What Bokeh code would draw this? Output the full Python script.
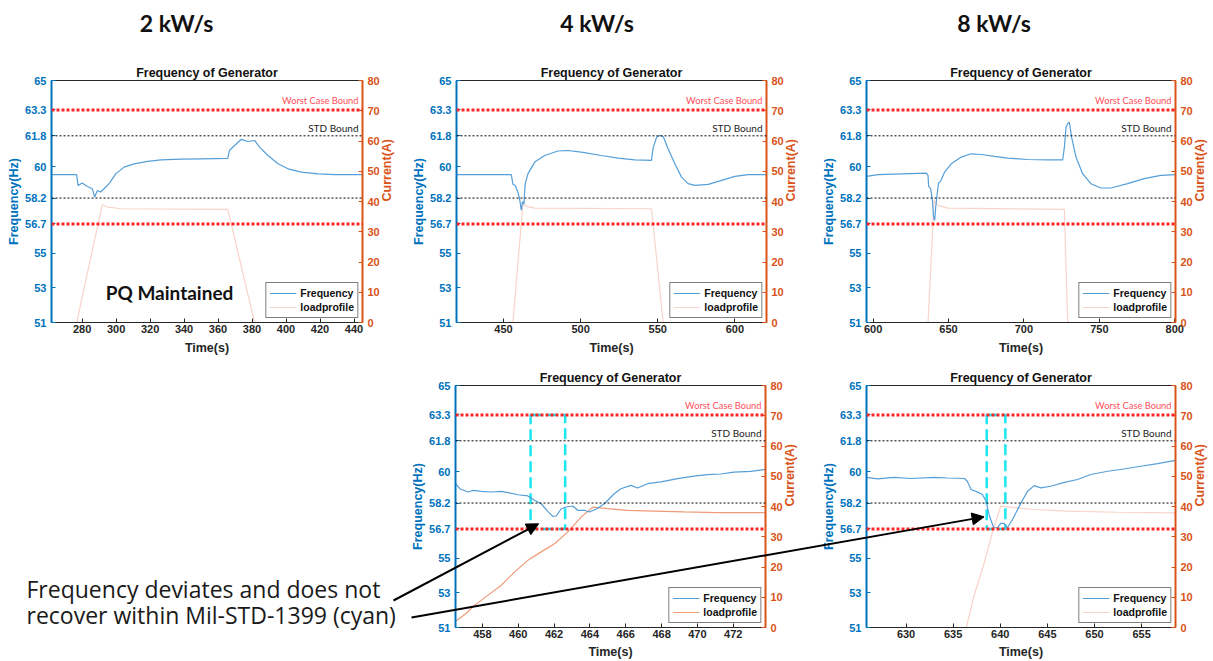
import math
from bokeh.plotting import figure
from bokeh.layouts import column, row
from bokeh.models import (Range1d, LinearAxis, Span, Label, Arrow, NormalHead,
                          SingleIntervalTicker, FixedTicker, CustomJSTickFormatter)
from bokeh.embed import file_html
from bokeh.resources import INLINE

# ---------------- data ----------------
HEADERS = ["2 kW/s", "4 kW/s", "8 kW/s"]
FREQ_TICKS = [51, 53, 55, 56.7, 58.2, 60, 61.8, 63.3, 65]
CURRENT_TICKS = [0, 10, 20, 30, 40, 50, 60, 70, 80]
WORST_CASE_BOUNDS = [56.7, 63.3]
STD_BOUNDS = [58.2, 61.8]
ANNOTATION_LINES = ["Frequency deviates and does not", "recover within Mil-STD-1399 (cyan)"]
PQ_TEXT = "PQ Maintained"

# 2 kW/s
T_FREQ_2KW = [262, 276.8, 277.6, 280.1, 283.1, 286.0, 287.4, 289.0, 290.9, 292.9, 295.9, 299.8,
              304.7, 310.6, 318.5, 326.4, 338.2, 350.0, 365.7, 366.7, 369.7, 373.6, 377.6, 381.5,
              384.4, 389.4, 395.3, 401.2, 409.0, 418.9, 428.7, 445.0]
FREQ_2KW = [59.55, 59.55, 58.93, 59.07, 58.87, 58.74, 58.26, 58.64, 58.55, 58.74, 59.03, 59.6,
            59.99, 60.18, 60.32, 60.41, 60.45, 60.47, 60.49, 60.95, 61.24, 61.59, 61.47, 61.53,
            61.15, 60.66, 60.18, 59.89, 59.70, 59.6, 59.55, 59.55]
T_LOAD_2KW = [262, 276.8, 291.9, 294.9, 302.7, 365.7, 381.5, 445]
LOAD_2KW = [0, 0, 39.0, 38.2, 37.6, 37.4, 0, 0]

# 4 kW/s
T_FREQ_4KW = [419.5, 455.0, 456.1, 457.6, 459.3, 460.4, 461.5, 462.3, 463.2, 464.0, 465.8, 470.2,
              476.7, 485.3, 491.8, 500.5, 513.5, 524.3, 535.1, 545.9, 547.0, 549.2, 551.3, 553.5,
              556.7, 561.1, 565.4, 569.7, 574.1, 582.7, 591.4, 600.0, 608.7, 620.5]
FREQ_4KW = [59.55, 59.55, 59.0, 58.93, 58.55, 58.16, 57.5, 58.0, 57.85, 59.0, 59.6, 60.28,
            60.66, 60.92, 60.95, 60.86, 60.66, 60.51, 60.41, 60.38, 61.1, 61.72, 61.82, 61.76,
            61.05, 60.18, 59.41, 59.03, 58.93, 58.99, 59.22, 59.45, 59.55, 59.55]
T_LOAD_4KW = [419.5, 456.1, 462.6, 464.8, 470.2, 545.9, 553.5, 620.5]
LOAD_4KW = [0, 0, 39.5, 38.4, 37.8, 37.6, 0, 0]

# 8 kW/s
T_FREQ_8KW = [595.6, 603.3, 635.3, 636.4, 636.8, 638.1, 639.3, 640.1, 640.8, 641.5, 642.6, 643.4,
              644.8, 647.4, 651.8, 658.4, 665.0, 671.7, 680.5, 689.3, 702.5, 715.7, 725.7, 726.8,
              727.9, 729.0, 730.1, 731.6, 734.5, 738.9, 744.4, 751.0, 757.6, 768.7, 779.7, 790.7, 800.5]
FREQ_8KW = [59.45, 59.55, 59.64, 59.51, 58.87, 58.74, 58.06, 57.1, 56.91, 57.68, 58.55, 59.07,
            59.18, 59.7, 60.18, 60.57, 60.76, 60.72, 60.61, 60.51, 60.43, 60.41, 60.41, 61.14,
            62.3, 62.5, 62.59, 61.72, 60.57, 59.61, 59.03, 58.78, 58.78, 59.03, 59.32, 59.51, 59.55]
T_LOAD_8KW = [595.6, 636.4, 640.4, 643.0, 649.6, 726.8, 729.0, 800.5]
LOAD_8KW = [0, 0, 40.4, 38.7, 37.8, 37.4, 0, 0]

# 4 kW/s zoom
T_FREQ_4KW_ZOOM = [456.5, 456.74, 457.2, 457.5, 457.95, 458.5, 459.06, 459.43, 459.99, 460.54,
                   460.91, 461.28, 461.65, 461.93, 462.12, 462.4, 462.67, 463.05, 463.32, 463.69,
                   463.97, 464.34, 464.81, 465.36, 465.73, 466.29, 466.66, 467.22, 467.96, 468.89,
                   469.81, 470.56, 471.3, 472.04, 472.97, 473.8]
FREQ_4KW_ZOOM = [59.32, 59.03, 58.84, 58.93, 58.88, 58.84, 58.88, 58.8, 58.68, 58.61,
                 58.36, 58.16, 57.72, 57.43, 57.45, 57.87, 57.97, 58.03, 57.78, 57.78,
                 57.68, 57.84, 58.16, 58.74, 59.03, 59.22, 59.07, 59.32, 59.42, 59.61,
                 59.76, 59.84, 59.88, 59.99, 60.03, 60.15]
T_LOAD_4KW_ZOOM = [456.5, 457.02, 457.58, 458.32, 459.06, 459.8, 460.54, 461.28, 462.03, 462.77,
                   463.51, 464.16, 464.99, 466.1, 467.59, 469.26, 471.11, 473.8]
LOAD_4KW_ZOOM = [2.1, 4.3, 7.4, 10.7, 14.0, 18.4, 22.2, 25.0, 27.7, 31.6,
                 36.5, 39.8, 39.3, 38.7, 38.5, 38.2, 38.0, 38.0]
CYAN_4KW_ZOOM = [460.69, 462.62]
ARROW_TIP_4KW = [461.14, 57.0]

# 8 kW/s zoom
T_FREQ_8KW_ZOOM = [625.8, 627.0, 628.7, 630.5, 633.0, 634.4, 636.2, 636.5, 636.9, 637.6, 638.1,
                   638.5, 638.8, 639.3, 639.7, 640.05, 640.4, 640.75, 641.3, 642.2, 642.9, 643.6,
                   644.3, 645.35, 646.8, 648.2, 649.6, 651.4, 653.1, 654.9, 656.7, 658.6]
FREQ_8KW_ZOOM = [59.69, 59.6, 59.69, 59.62, 59.69, 59.65, 59.62, 59.46, 58.98, 58.83, 58.69,
                 58.31, 57.54, 56.77, 56.77, 57.02, 57.02, 56.77, 57.25, 58.21, 58.88, 59.21,
                 59.08, 59.17, 59.4, 59.56, 59.85, 60.04, 60.17, 60.33, 60.48, 60.67]
T_LOAD_8KW_ZOOM = [625.8, 636.4, 637.2, 638.3, 639.3, 640.05, 641.5, 643.6, 647.1, 652.4, 658.6]
LOAD_8KW_ZOOM = [0, 0, 10.4, 21.4, 33.0, 40.1, 39.6, 39.0, 38.5, 38.1, 37.9]
CYAN_8KW_ZOOM = [638.56, 640.54]
ARROW_TIP_8KW = [638.28, 57.4]

# ---------------- styling ----------------
BLUE = "#0072BD"
ORANGE = "#D95319"
DARK = "#262626"
FREQ_COLOR = "#559fd9"
LOAD_FAINT = "#f8d4ca"
LOAD_STRONG = "#ef9a78"
FONT = "Liberation Sans"
CAL = "Lato"
W, H = 1213, 661

TOP_FH, BOT_FH = 242, 242
TOP_BT, TOP_BB = 80, 36
BOT_BT, BOT_BB = 27, 34

F1 = dict(fw=311, bl=51, br=40)
F2 = dict(fw=310, bl=53, br=45)
F3 = dict(fw=309, bl=55, br=39)
F4 = dict(fw=310, bl=455, br=45)
F5 = dict(fw=309, bl=56, br=38)


def style_axis(ax, color):
    ax.axis_line_color = color
    ax.major_tick_line_color = color
    ax.major_tick_in = 4
    ax.major_tick_out = 0
    ax.minor_tick_line_color = None
    ax.major_label_text_font = FONT
    ax.major_label_text_font_size = "11px"
    ax.major_label_text_font_style = "bold"
    ax.major_label_text_color = color
    ax.axis_label_text_font = FONT
    ax.axis_label_text_font_size = "12.5px"
    ax.axis_label_text_font_style = "bold"
    ax.axis_label_text_color = color


def make_panel(xr, interval, t_f, f, t_l, l, load_color, fw, fh, bl, br, bt, bb, compact=False):
    p = figure(frame_width=fw, frame_height=fh, x_range=Range1d(*xr), y_range=Range1d(51, 65),
               min_border_left=bl, min_border_right=br, min_border_top=bt, min_border_bottom=bb,
               output_backend="svg", toolbar_location=None, title="Frequency of Generator",
               background_fill_color="white", border_fill_color="white")
    p.extra_y_ranges = {"cur": Range1d(0, 80)}
    p.xgrid.visible = False
    p.ygrid.visible = False
    p.outline_line_color = DARK
    p.outline_line_width = 1
    p.outline_line_alpha = 1

    p.title.align = "center"
    p.title.text_font = FONT
    p.title.text_font_size = "12.5px"
    p.title.text_font_style = "bold"
    p.title.text_color = "#111111"
    p.title.standoff = 2

    xa = p.xaxis[0]
    xa.ticker = SingleIntervalTicker(interval=interval, num_minor_ticks=0)
    xa.axis_label = "Time(s)"
    style_axis(xa, DARK)
    xa.axis_line_width = 1
    xa.major_label_standoff = 2
    xa.axis_label_standoff = 4 if compact else 5

    ya = p.yaxis[0]
    ya.ticker = FixedTicker(ticks=FREQ_TICKS)
    ya.formatter = CustomJSTickFormatter(code="return String(Math.round(tick*10)/10)")
    ya.axis_label = "Frequency(Hz)"
    style_axis(ya, BLUE)
    ya.axis_line_width = 2
    ya.major_label_standoff = 5
    ya.axis_label_standoff = 1

    ra = LinearAxis(y_range_name="cur", ticker=FixedTicker(ticks=CURRENT_TICKS),
                    axis_label="Current(A)")
    style_axis(ra, ORANGE)
    ra.axis_line_width = 2
    ra.major_label_standoff = 5
    ra.axis_label_standoff = 4
    ra.axis_label_orientation = math.pi / 2
    p.add_layout(ra, "right")

    p.line(t_l, l, y_range_name="cur", line_color=load_color, line_width=1.2,
           legend_label="loadprofile")
    p.line(t_f, f, line_color=FREQ_COLOR, line_width=1.2, legend_label="Frequency")

    for b in WORST_CASE_BOUNDS:
        p.add_layout(Span(location=b, dimension="width", line_color="#ff2424",
                          line_width=3, line_dash="3 2"))
    for b in STD_BOUNDS:
        p.add_layout(Span(location=b, dimension="width", line_color="#000000",
                          line_width=1, line_dash="2 2"))
    p.add_layout(Label(x=xr[1], y=63.82, x_offset=-4, text="Worst Case Bound",
                       text_align="right", text_baseline="middle", text_font=CAL,
                       text_font_size="9.3px", text_color="#ff4f5a"))
    p.add_layout(Label(x=xr[1], y=62.27, x_offset=-4, text="STD Bound",
                       text_align="right", text_baseline="middle", text_font=CAL,
                       text_font_size="10px", text_color="#222222"))

    leg = p.legend[0]
    leg.location = "bottom_right"
    leg.items = list(reversed(leg.items))
    leg.label_text_font = FONT
    leg.label_text_font_size = "10.5px"
    leg.label_text_font_style = "bold"
    leg.label_text_color = "#111111"
    leg.glyph_height = 14
    leg.label_height = 14
    leg.glyph_width = 27
    leg.label_standoff = 4
    leg.padding = 3
    leg.spacing = 0
    leg.margin = 4
    leg.border_line_color = "black"
    leg.border_line_width = 1
    leg.background_fill_color = "white"
    leg.background_fill_alpha = 1
    return p


# ---- top row ----
p1 = make_panel((262, 445), 20, T_FREQ_2KW, FREQ_2KW, T_LOAD_2KW, LOAD_2KW, LOAD_FAINT,
                fh=TOP_FH, bt=TOP_BT, bb=TOP_BB, **F1)
p2 = make_panel((419.5, 620.5), 50, T_FREQ_4KW, FREQ_4KW, T_LOAD_4KW, LOAD_4KW, LOAD_FAINT,
                fh=TOP_FH, bt=TOP_BT, bb=TOP_BB, **F2)
p3 = make_panel((595.6, 800.5), 50, T_FREQ_8KW, FREQ_8KW, T_LOAD_8KW, LOAD_8KW, LOAD_FAINT,
                fh=TOP_FH, bt=TOP_BT, bb=TOP_BB, **F3)

p1.add_layout(Label(x=169 - F1["bl"], y=TOP_BT + TOP_FH - 292, x_units="screen", y_units="screen",
                    text=PQ_TEXT, text_align="center", text_baseline="middle", text_font=CAL,
                    text_font_style="bold", text_font_size="19px", text_color="#111111"))

# ---- bottom row ----
x4r = (456.5, 473.8)
x5r = (625.8, 658.6)
p4 = make_panel(x4r, 2, T_FREQ_4KW_ZOOM, FREQ_4KW_ZOOM, T_LOAD_4KW_ZOOM, LOAD_4KW_ZOOM,
                LOAD_STRONG, fh=BOT_FH, bt=BOT_BT, bb=BOT_BB, compact=True, **F4)
p5 = make_panel(x5r, 5, T_FREQ_8KW_ZOOM, FREQ_8KW_ZOOM, T_LOAD_8KW_ZOOM, LOAD_8KW_ZOOM,
                LOAD_FAINT, fh=BOT_FH, bt=BOT_BT, bb=BOT_BB, compact=True, **F5)

for p, cy in ((p4, CYAN_4KW_ZOOM), (p5, CYAN_8KW_ZOOM)):
    p.quad(left=[cy[0]], right=[cy[1]], bottom=[WORST_CASE_BOUNDS[0]], top=[WORST_CASE_BOUNDS[1]],
           fill_alpha=0, line_color="#19e6f0", line_width=2.5, line_dash="11 5", level="underlay")

# ---- overlay (page coordinates) for headers, annotation text and arrows ----
top_h = TOP_BT + TOP_FH + TOP_BB
p4_left = F4["bl"]
p5_left = F4["bl"] + F4["fw"] + F4["br"] + F5["bl"]
bot_frame_top = top_h + BOT_BT
bot_frame_bottom = bot_frame_top + BOT_FH


def page_xy(xr, left, fw, x, y):
    px = left + (x - xr[0]) / (xr[1] - xr[0]) * fw
    py = bot_frame_bottom - (y - 51) / 14 * BOT_FH
    return px, py


ov = figure(width=W, height=H, x_range=Range1d(0, W), y_range=Range1d(H, 0),
            min_border=0, toolbar_location=None, output_backend="svg",
            x_axis_type=None, y_axis_type=None,
            background_fill_color=None, border_fill_color=None,
            styles={"position": "absolute", "left": "0px", "top": "0px",
                    "pointer-events": "none"})
ov.outline_line_color = None
ov.xgrid.visible = False
ov.ygrid.visible = False

HEADER_X = [176, 596.5, 993.5]
for txt, hx in zip(HEADERS, HEADER_X):
    ov.add_layout(Label(x=hx, y=22, text=txt, text_align="center", text_baseline="middle",
                        text_font=CAL, text_font_style="bold", text_font_size="23px",
                        text_color="#111111"))

for txt, py in zip(ANNOTATION_LINES, (588, 614)):
    ov.add_layout(Label(x=26, y=py, text=txt, text_align="left", text_baseline="middle",
                        text_font="Open Sans", text_font_size="23px", text_color="#1a1a1a"))

tip1 = page_xy(x4r, p4_left, F4["fw"], *ARROW_TIP_4KW)
tip2 = page_xy(x5r, p5_left, F5["fw"], *ARROW_TIP_8KW)
for (sx, sy), tip in (((393, 600), tip1), ((411, 617), tip2)):
    ov.add_layout(Arrow(end=NormalHead(size=12, fill_color="black", line_color="black"),
                        x_start=sx, y_start=sy, x_end=tip[0], y_end=tip[1],
                        line_color="black", line_width=2))

layout = column(row(p1, p2, p3), row(p4, p5))
open("out.html", "w").write(file_html([layout, ov], INLINE))
